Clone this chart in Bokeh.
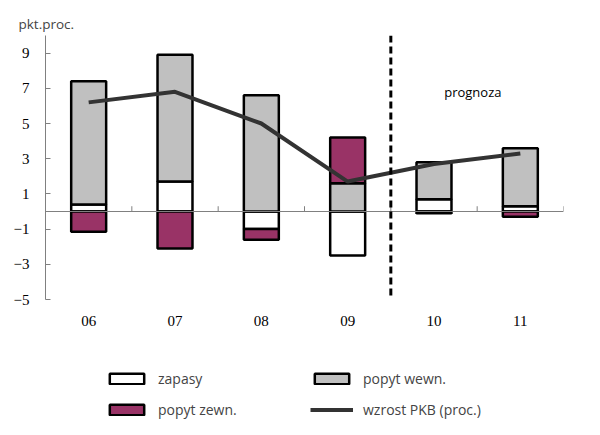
import numpy as np
from bokeh.plotting import figure
from bokeh.layouts import column
from bokeh.models import ColumnDataSource, Span, Label, Legend, LegendItem, FixedTicker
from bokeh.embed import file_html
from bokeh.resources import INLINE

years = ["06", "07", "08", "09", "10", "11"]
zapasy = [0.4, 1.7, -1.0, -2.5, 0.7, 0.3]
popyt_wewn = [7.0, 7.2, 6.6, 1.6, 2.1, 3.3]
popyt_zewn = [-1.15, -2.1, -0.6, 2.6, -0.1, -0.3]
pkb = [6.2, 6.8, 5.0, 1.7, 2.7, 3.3]
y_ticks = [-5, -3, -1, 1, 3, 5, 7, 9]
forecast_from = 4  # index of first forecast year ("10")

names = ["zapasy", "popyt wewn.", "popyt zewn."]
colors = ["white", "#C0C0C0", "#993366"]
series = [zapasy, popyt_wewn, popyt_zewn]
line_name = "wzrost PKB (proc.)"

BAR_LINE_W = 2.5
GDP_COLOR = "#333333"

x = np.arange(len(years))

p = figure(width=592, height=335, x_range=(-0.5, len(years) - 0.5), y_range=(-5, 10),
           output_backend="svg", toolbar_location=None,
           min_border_left=45, min_border_right=29, min_border_top=35, min_border_bottom=36)
p.outline_line_color = None
p.xgrid.grid_line_color = None
p.ygrid.grid_line_color = None
p.background_fill_color = "white"

p.title.text = "pkt.proc."
p.title.align = "left"
p.title.offset = -27
p.title.text_font = "Open Sans"
p.title.text_font_size = "13.5px"
p.title.text_font_style = "normal"
p.title.standoff = 5

# stacked bars (positive and negative stacked separately)
pos = np.zeros(len(years))
neg = np.zeros(len(years))
for name, col, s in zip(names, colors, series):
    s = np.array(s, dtype=float)
    bottom = np.where(s >= 0, pos, neg)
    top = bottom + s
    pos = np.where(s >= 0, top, pos)
    neg = np.where(s < 0, top, neg)
    src = ColumnDataSource(dict(x=x, bottom=bottom, top=top))
    p.vbar(x="x", bottom="bottom", top="top", width=0.405, source=src,
           fill_color=col, line_color="black", line_width=BAR_LINE_W)

# zero line with category boundary ticks
p.add_layout(Span(location=0, dimension="width", line_color="#808080", line_width=1))
bx = x + 0.5
p.segment(x0=bx, y0=np.zeros(len(bx)), x1=bx, y1=np.full(len(bx), 0.3),
          line_color="#808080", line_width=1)

# GDP line
p.line(x, pkb, line_color=GDP_COLOR, line_width=4)

# forecast divider
p.add_layout(Span(location=forecast_from - 0.5, dimension="height", line_color="black",
                  line_width=3, line_dash="7 4"))

p.add_layout(Label(x=forecast_from + 0.45, y=6.8, text="prognoza", text_align="center",
                   text_baseline="middle", text_font="Open Sans", text_font_size="13px",
                   text_color="black"))

# y axis
p.yaxis.ticker = FixedTicker(ticks=y_ticks)
p.yaxis.minor_tick_line_color = None
p.yaxis.major_tick_in = 5
p.yaxis.major_tick_out = 0
p.yaxis.axis_line_color = "#808080"
p.yaxis.major_tick_line_color = "#808080"
p.yaxis.major_label_text_font = "Liberation Serif"
p.yaxis.major_label_text_font_size = "15px"
p.yaxis.major_label_text_color = "black"
p.yaxis.major_label_standoff = 16

# x axis (labels only)
p.xaxis.ticker = FixedTicker(ticks=list(x))
p.xaxis.major_label_overrides = {int(i): years[i] for i in x}
p.xaxis.axis_line_color = None
p.xaxis.major_tick_line_color = None
p.xaxis.minor_tick_line_color = None
p.xaxis.major_label_text_font = "Liberation Serif"
p.xaxis.major_label_text_font_size = "15px"
p.xaxis.major_label_text_color = "black"
p.xaxis.major_label_standoff = 10

# legend strip below the chart (legend-only figure; its helper glyphs have no drawable data)
lf = figure(width=592, height=92, x_range=(0, 1), y_range=(0, 1),
            output_backend="svg", toolbar_location=None,
            x_axis_location=None, y_axis_location=None,
            min_border=0, min_border_left=0, min_border_right=0,
            min_border_top=0, min_border_bottom=0)
lf.xgrid.grid_line_color = None
lf.ygrid.grid_line_color = None
lf.outline_line_color = None

nan = float("nan")
hidden = lambda: ColumnDataSource(dict(x=[nan], bottom=[nan], top=[nan]))
leg_bars = [lf.vbar(x="x", bottom="bottom", top="top", width=0.4, source=hidden(),
                    fill_color=c, line_color="black", line_width=BAR_LINE_W) for c in colors]
leg_line = lf.line(x=[nan, nan], y=[nan, nan], line_color=GDP_COLOR, line_width=4)

items = [
    LegendItem(label=names[0], renderers=[leg_bars[0]]),
    LegendItem(label=names[1], renderers=[leg_bars[1]]),
    LegendItem(label=names[2], renderers=[leg_bars[2]]),
    LegendItem(label=line_name, renderers=[leg_line]),
]
legend = Legend(items=items, ncols=2, location=(60, 8), orientation="horizontal",
                padding=0, margin=0, spacing=12, glyph_width=43, glyph_height=13,
                label_standoff=10, label_width=140, label_height=17,
                label_text_font="Open Sans", label_text_font_size="14px",
                border_line_color=None, background_fill_alpha=0)
lf.add_layout(legend)

layout = column(p, lf, spacing=0)
open("out.html", "w").write(file_html(layout, INLINE))
